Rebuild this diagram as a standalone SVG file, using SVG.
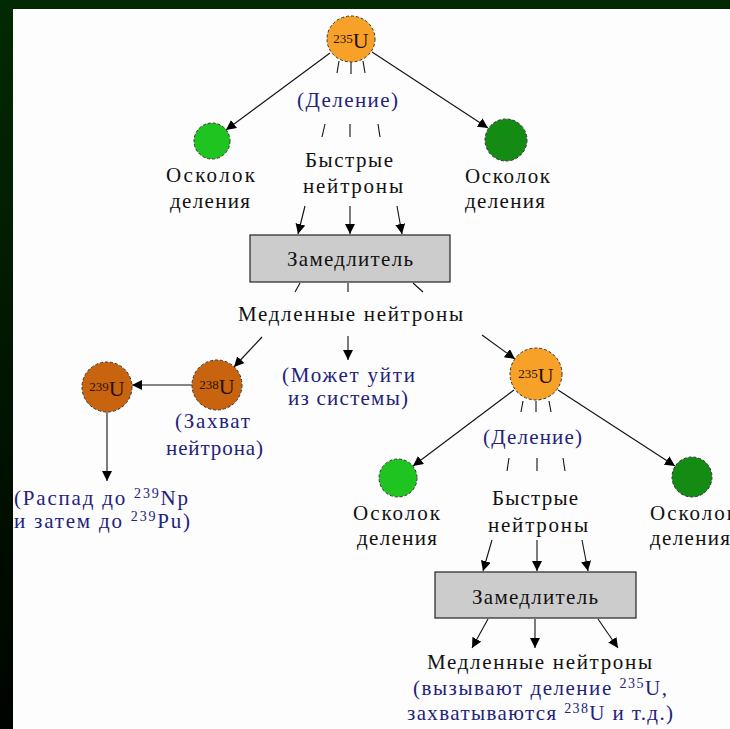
<svg xmlns="http://www.w3.org/2000/svg" width="730" height="729" viewBox="0 0 730 729">
<defs>
<linearGradient id="bg" x1="0" y1="0" x2="0" y2="1">
<stop offset="0" stop-color="#022a02"/>
<stop offset="1" stop-color="#000300"/>
</linearGradient>
<marker id="ah" viewBox="0 0 10 10" refX="10" refY="5" markerWidth="10" markerHeight="10" markerUnits="userSpaceOnUse" orient="auto">
<path d="M0,0 L10,5 L0,10 Z" fill="#000"/>
</marker>
<style>
text{font-family:"Liberation Serif","DejaVu Serif",serif;font-size:21px;fill:#111}
.b{fill:#22227a}
.nl{font-size:22px;fill:#2a1000}
.u{fill:#f7a128;stroke:#333;stroke-width:1;stroke-dasharray:3 2}
.ub{fill:#c8640f;stroke:#333;stroke-width:1;stroke-dasharray:3 2}
.g1{fill:#20c420;stroke:#333;stroke-width:1;stroke-dasharray:3 2}
.g2{fill:#148c14;stroke:#333;stroke-width:1;stroke-dasharray:3 2}
.box{fill:#cccccc;stroke:#222;stroke-width:1.2}
.c line{stroke:#111;stroke-width:1.1}
.c .a{marker-end:url(#ah)}
</style>
</defs>
<rect x="0" y="0" width="730" height="729" fill="url(#bg)"/>
<rect x="13" y="9" width="717" height="720" fill="#fdfdfd"/>

<g class="c" id="connectors">
<line class="a" x1="330" y1="53" x2="226" y2="130"/>
<line class="a" x1="372" y1="52" x2="488" y2="128"/>
<line x1="339" y1="61" x2="337" y2="73"/>
<line x1="351" y1="62" x2="351" y2="74"/>
<line x1="363" y1="61" x2="365" y2="73"/>
<line x1="325" y1="124" x2="322" y2="137"/>
<line x1="350" y1="124" x2="350" y2="137"/>
<line x1="378" y1="124" x2="380" y2="137"/>
<line class="a" x1="305" y1="206" x2="298" y2="234"/>
<line class="a" x1="350" y1="206" x2="350" y2="234"/>
<line class="a" x1="397" y1="206" x2="402" y2="234"/>
<line x1="300" y1="283" x2="295" y2="292"/>
<line x1="348" y1="283" x2="348" y2="292"/>
<line x1="413" y1="283" x2="423" y2="292"/>
<line class="a" x1="348" y1="336" x2="348" y2="360"/>
<line class="a" x1="262" y1="337" x2="234" y2="367"/>
<line class="a" x1="482" y1="335" x2="515" y2="359"/>
<line class="a" x1="192" y1="385" x2="132" y2="385"/>
<line class="a" x1="107" y1="412" x2="107" y2="481"/>
<line class="a" x1="514" y1="390" x2="413" y2="466"/>
<line class="a" x1="558" y1="390" x2="675" y2="466"/>
<line x1="523" y1="401" x2="521" y2="412"/>
<line x1="536" y1="401" x2="536" y2="412"/>
<line x1="549" y1="401" x2="551" y2="412"/>
<line x1="509" y1="458" x2="507" y2="471"/>
<line x1="537" y1="458" x2="537" y2="471"/>
<line x1="563" y1="458" x2="565" y2="471"/>
<line class="a" x1="492" y1="540" x2="483" y2="571"/>
<line class="a" x1="537" y1="540" x2="537" y2="571"/>
<line class="a" x1="582" y1="540" x2="588" y2="571"/>
<line class="a" x1="488" y1="619" x2="472" y2="648"/>
<line class="a" x1="535" y1="619" x2="535" y2="648"/>
<line class="a" x1="598" y1="619" x2="618" y2="648"/>
</g>

<g id="u235-top">
<ellipse class="u" cx="351" cy="39" rx="24" ry="23"/>
<text class="nl" x="351" y="48" text-anchor="middle"><tspan font-size="13" dy="-5">235</tspan><tspan dy="5">U</tspan></text>
</g>
<g id="fission-label-top"><text class="b" x="297" y="107" textLength="101" lengthAdjust="spacing">(Деление)</text></g>
<g id="fast-top">
<text x="305" y="167" textLength="88" lengthAdjust="spacing">Быстрые</text>
<text x="303" y="193" textLength="100" lengthAdjust="spacing">нейтроны</text>
</g>
<g id="frag-top-left">
<circle class="g1" cx="212" cy="141" r="18"/>
<text x="166" y="182" textLength="89" lengthAdjust="spacing">Осколок</text>
<text x="170" y="208" textLength="80" lengthAdjust="spacing">деления</text>
</g>
<g id="frag-top-right">
<circle class="g2" cx="506" cy="140" r="21"/>
<text x="465" y="183" textLength="85" lengthAdjust="spacing">Осколок</text>
<text x="465" y="208" textLength="80" lengthAdjust="spacing">деления</text>
</g>
<g id="moderator-top">
<rect class="box" x="250" y="235" width="200" height="47"/>
<text x="287" y="266" textLength="126" lengthAdjust="spacing">Замедлитель</text>
</g>
<g id="slow-top"><text x="238" y="321" textLength="225" lengthAdjust="spacing">Медленные нейтроны</text></g>
<g id="escape">
<text class="b" x="282" y="382" textLength="133" lengthAdjust="spacing">(Может уйти</text>
<text class="b" x="288" y="405" textLength="120" lengthAdjust="spacing">из системы)</text>
</g>
<g id="u238">
<circle class="ub" cx="217" cy="385" r="25"/>
<text class="nl" x="217" y="394" text-anchor="middle"><tspan font-size="13" dy="-5">238</tspan><tspan dy="5">U</tspan></text>
<text class="b" x="175" y="428" textLength="75" lengthAdjust="spacing">(Захват</text>
<text class="b" x="166" y="455" textLength="97" lengthAdjust="spacing">нейтрона)</text>
</g>
<g id="u239">
<circle class="ub" cx="107" cy="387" r="25"/>
<text class="nl" x="107" y="396" text-anchor="middle"><tspan font-size="13" dy="-5">239</tspan><tspan dy="5">U</tspan></text>
</g>
<g id="decay">
<text class="b" x="14" y="505" textLength="174" lengthAdjust="spacing">(Распад до <tspan font-size="14" dy="-7">239</tspan><tspan dy="7">Np</tspan></text>
<text class="b" x="14" y="528" textLength="176" lengthAdjust="spacing">и затем до <tspan font-size="14" dy="-7">239</tspan><tspan dy="7">Pu)</tspan></text>
</g>
<g id="u235-second">
<circle class="u" cx="536" cy="374" r="26"/>
<text class="nl" x="536" y="383" text-anchor="middle"><tspan font-size="13" dy="-5">235</tspan><tspan dy="5">U</tspan></text>
</g>
<g id="fission-label-second"><text class="b" x="483" y="444" textLength="99" lengthAdjust="spacing">(Деление)</text></g>
<g id="fast-second">
<text x="492" y="505" textLength="86" lengthAdjust="spacing">Быстрые</text>
<text x="488" y="532" textLength="100" lengthAdjust="spacing">нейтроны</text>
</g>
<g id="frag-second-left">
<circle class="g1" cx="398" cy="478" r="19"/>
<text x="353" y="520" textLength="87" lengthAdjust="spacing">Осколок</text>
<text x="357" y="545" textLength="80" lengthAdjust="spacing">деления</text>
</g>
<g id="frag-second-right">
<circle class="g2" cx="692" cy="477" r="20"/>
<text x="650" y="520" textLength="87" lengthAdjust="spacing">Осколок</text>
<text x="650" y="545" textLength="80" lengthAdjust="spacing">деления</text>
</g>
<g id="moderator-second">
<rect class="box" x="435" y="572" width="201" height="46"/>
<text x="472" y="604" textLength="126" lengthAdjust="spacing">Замедлитель</text>
</g>
<g id="slow-second">
<text x="427" y="669" textLength="225" lengthAdjust="spacing">Медленные нейтроны</text>
<text class="b" x="413" y="695" textLength="254" lengthAdjust="spacing">(вызывают деление <tspan font-size="14" dy="-7">235</tspan><tspan dy="7">U,</tspan></text>
<text class="b" x="407" y="720" textLength="266" lengthAdjust="spacing">захватываются <tspan font-size="14" dy="-7">238</tspan><tspan dy="7">U и т.д.)</tspan></text>
</g>
</svg>
